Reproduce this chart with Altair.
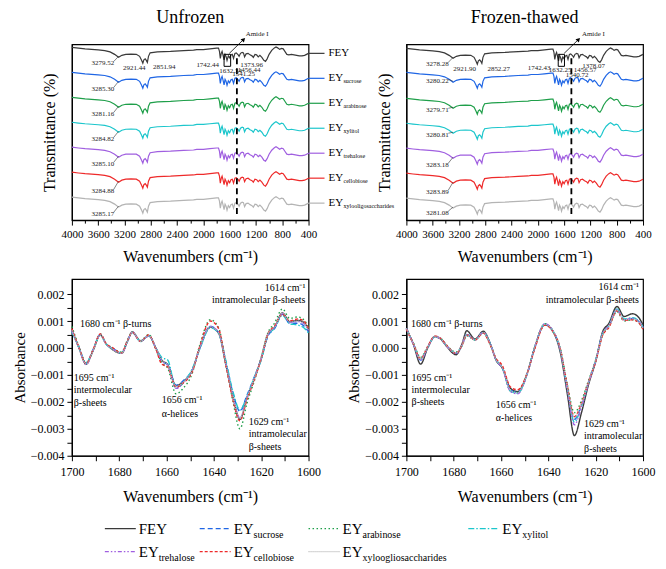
import altair as alt
import pandas as pd

FONT = "Liberation Serif"

# ---------------- series ----------------
SERIES = ["FEY", "EY_sucrose", "EY_arabinose", "EY_xylitol", "EY_trehalose", "EY_cellobiose", "EY_xylooligosaccharides"]
MAIN = ["FEY", "EY", "EY", "EY", "EY", "EY", "EY"]
SUBS = ["", "sucrose", "arabinose", "xylitol", "trehalose", "cellobiose", "xylooligosaccharides"]
LEGEND_SUBS = ["", "sucrose", "arabinose", "xylitol", "trehalose", "cellobiose", "xyloogliosaccharides"]
COLORS = ["#3a3a3a", "#1f66e5", "#1f9f4a", "#1cc6cc", "#a05fe0", "#ee2a2a", "#b4b4b4"]
DASHES = [[1, 0], [5, 3], [1.5, 2.5], [6, 2, 1.5, 2], [4, 2, 1.5, 2, 1.5, 2], [3, 2], [1, 1]]

# ---------------- FTIR spectra (top) ----------------
WN_TOP = [4000, 3900, 3800, 3700, 3600, 3500, 3420, 3350, 3290, 3240, 3180, 3100, 3020, 2970, 2940,
          2921, 2905, 2885, 2868, 2852, 2835, 2810, 2700, 2500, 2300, 2150, 2100, 2000, 1900, 1800,
          1770, 1755, 1742, 1728, 1715, 1700, 1685, 1670, 1655, 1640, 1620, 1600, 1580, 1560, 1541,
          1520, 1500, 1470, 1456, 1435, 1410, 1390, 1373, 1350, 1320, 1290, 1260, 1240, 1215, 1190,
          1165, 1140, 1110, 1080, 1055, 1030, 1000, 960, 920, 895, 870, 840, 810, 785, 760, 730, 700,
          660, 620, 580, 540, 500, 460, 430, 400]
# absorption depth below each trace's baseline (transmittance units)
DEPTH_TOP = [0.0, 0.8, 1.5, 2.0, 2.5, 3.2, 4.5, 7.0, 10.0, 8.0, 7.0, 6.8, 7.0, 9.0, 13.0,
             16.0, 12.5, 11.5, 13.0, 15.0, 9.0, 5.5, 4.5, 4.0, 3.2, 2.8, 2.2, 2.2, 1.5, 0.8,
             0.8, 4.0, 11.0, 6.0, 4.0, 8.0, 12.5, 7.0, 9.0, 13.0, 8.5, 10.5, 7.5, 7.0, 11.0,
             6.0, 5.5, 7.5, 9.0, 6.0, 5.0, 5.5, 9.5, 6.5, 6.0, 7.5, 8.5, 10.0, 7.0, 7.5,
             9.5, 8.0, 10.0, 13.0, 14.0, 11.5, 7.0, 3.0, 0.5, -0.5, 0.5, 2.0, 1.0, 1.5, 4.0, 7.0, 7.5,
             7.0, 7.5, 8.0, 8.5, 8.5, 8.0, 7.0, 6.0]
# vertical stacking level of each trace
LEVEL_U = [173, 148, 123, 98, 73, 48, 23]
LEVEL_F = [172, 148, 122, 97, 72, 47, 22]

# peak labels on the FEY trace: (text, wavenumber, y)
PEAKS_U = [("3279.52", 3529, 157), ("2921.44", 3051, 152), ("2851.94", 2595, 153), ("1742.44", 1934, 155),
           ("1632.34", 1585, 149), ("1541.25", 1387, 146), ("1456.44", 1304, 150), ("1373.96", 1266, 155)]
PEAKS_F = [("3278.28", 3529, 156), ("2921.90", 3114, 151), ("2852.27", 2595, 151), ("1742.43", 1980, 152),
           ("1632.25", 1661, 150), ("1540.72", 1402, 145), ("1456.57", 1281, 150), ("1378.07", 1152, 154)]
# O-H band labels on the other traces
OH_U = ["3285.30", "3281.16", "3284.82", "3285.10", "3284.88", "3285.17"]
OH_U_Y = [131, 106, 81, 56, 29, 6]
OH_F = ["3280.22", "3279.71", "3280.81", "3283.18", "3283.89", "3281.08"]
OH_F_Y = [139, 110, 85, 55, 28, 7]

# ---------------- second derivative (bottom) ----------------
G = [1700, 1697, 1694, 1691, 1688, 1685.5, 1683, 1679, 1676.5, 1674.5, 1671, 1667.5, 1664.5, 1662, 1659.5,
     1656, 1653, 1649, 1646, 1641.5, 1638, 1635, 1632, 1629, 1626, 1623, 1620, 1617, 1614.5, 1611, 1608,
     1604.5, 1602, 1600]
# values in units of 1e-3
SD_U = {
    "FEY":        [0.68, 0.00, -0.60, -0.08, 0.48, 0.15, -0.05, -0.20, 0.25, 0.60, 0.25, 0.45, 0.00, -0.45, -0.62, -1.40, -1.25, -0.80, 0.00, 0.77, 0.55, -0.60, -1.80, -2.65, -1.85, -1.15, -0.40, 0.55, 0.75, 1.30, 0.98, 1.02, 0.95, 0.68],
    "EY_sucrose": [0.62, 0.02, -0.58, -0.06, 0.50, 0.14, 0.00, -0.18, 0.25, 0.58, 0.25, 0.46, -0.02, -0.50, -0.62, -1.38, -1.22, -0.78, -0.02, 0.80, 0.58, -0.50, -1.65, -2.35, -1.75, -1.10, -0.40, 0.48, 0.70, 1.25, 0.92, 0.92, 0.82, 0.60],
    "EY_arabinose": [0.80, 0.05, -0.55, -0.10, 0.52, 0.15, 0.00, -0.15, 0.30, 0.58, 0.28, 0.50, -0.05, -0.55, -0.75, -1.70, -1.50, -0.90, 0.10, 1.05, 0.75, -0.55, -1.95, -3.00, -2.05, -1.25, -0.35, 0.60, 0.90, 1.45, 1.10, 1.15, 1.05, 0.75],
    "EY_xylitol": [0.60, 0.00, -0.55, -0.05, 0.48, 0.15, -0.02, -0.18, 0.25, 0.58, 0.24, 0.45, 0.00, -0.35, -0.45, -1.50, -1.30, -0.75, -0.05, 0.75, 0.55, -0.45, -1.60, -2.30, -1.80, -1.10, -0.45, 0.50, 0.72, 1.22, 0.90, 0.85, 0.75, 0.55],
    "EY_trehalose": [0.65, 0.00, -0.62, -0.08, 0.50, 0.14, -0.02, -0.20, 0.25, 0.60, 0.25, 0.45, 0.00, -0.48, -0.65, -1.50, -1.30, -0.82, 0.00, 0.80, 0.58, -0.55, -1.80, -2.60, -1.85, -1.15, -0.40, 0.52, 0.75, 1.28, 0.95, 0.98, 0.90, 0.65],
    "EY_cellobiose": [0.72, 0.02, -0.58, -0.05, 0.52, 0.16, 0.02, -0.18, 0.28, 0.58, 0.25, 0.48, -0.05, -0.60, -0.70, -1.45, -1.30, -0.85, 0.05, 1.00, 0.72, -0.60, -1.90, -2.70, -1.90, -1.20, -0.40, 0.55, 0.80, 1.25, 1.00, 1.08, 1.00, 0.72],
    "EY_xylooligosaccharides": [0.66, 0.00, -0.60, -0.08, 0.48, 0.14, -0.04, -0.20, 0.25, 0.60, 0.25, 0.45, 0.00, -0.46, -0.64, -1.42, -1.27, -0.80, 0.00, 0.78, 0.56, -0.58, -1.78, -2.62, -1.85, -1.15, -0.40, 0.55, 0.75, 1.30, 0.97, 1.00, 0.93, 0.67],
}
SD_F = {
    "FEY":        [0.74, 0.12, -0.60, 0.00, 0.43, 0.33, 0.06, -0.25, 0.15, 0.64, 0.33, 0.62, 0.15, -0.47, -0.74, -1.50, -1.62, -0.95, -0.05, 0.86, 0.60, -0.15, -1.70, -3.25, -2.40, -1.35, -0.50, 0.62, 0.90, 1.54, 1.17, 1.27, 1.15, 0.86],
    "EY_sucrose": [0.72, 0.15, -0.45, 0.02, 0.42, 0.35, 0.08, -0.20, 0.10, 0.50, 0.30, 0.58, 0.15, -0.45, -0.72, -1.55, -1.65, -0.98, -0.05, 0.88, 0.62, -0.05, -1.45, -2.65, -2.10, -1.25, -0.45, 0.55, 0.80, 1.40, 1.05, 1.10, 1.00, 0.75],
    "EY_arabinose": [0.70, 0.18, -0.35, 0.05, 0.40, 0.35, 0.10, -0.15, 0.08, 0.45, 0.30, 0.55, 0.12, -0.45, -0.72, -1.60, -1.65, -0.95, -0.02, 0.90, 0.62, 0.00, -1.35, -2.40, -1.95, -1.20, -0.45, 0.50, 0.78, 1.35, 1.00, 1.05, 0.95, 0.70],
    "EY_xylitol": [0.72, 0.15, -0.40, 0.02, 0.42, 0.35, 0.08, -0.18, 0.10, 0.50, 0.30, 0.58, 0.15, -0.45, -0.72, -1.60, -1.68, -0.98, -0.05, 0.88, 0.62, -0.05, -1.50, -2.75, -2.15, -1.28, -0.48, 0.55, 0.82, 1.45, 1.08, 1.12, 1.02, 0.78],
    "EY_trehalose": [0.72, 0.14, -0.45, 0.02, 0.42, 0.34, 0.07, -0.20, 0.10, 0.50, 0.30, 0.58, 0.14, -0.46, -0.74, -1.62, -1.70, -0.98, -0.05, 0.90, 0.64, -0.05, -1.55, -2.85, -2.20, -1.30, -0.48, 0.55, 0.82, 1.42, 1.05, 1.10, 1.00, 0.76],
    "EY_cellobiose": [0.70, 0.15, -0.40, 0.05, 0.44, 0.36, 0.10, -0.20, 0.10, 0.48, 0.30, 0.55, 0.10, -0.40, -0.65, -1.45, -1.55, -0.95, -0.10, 0.85, 0.60, -0.02, -1.40, -2.55, -2.05, -1.25, -0.50, 0.48, 0.75, 1.38, 1.02, 1.05, 0.95, 0.70],
    "EY_xylooligosaccharides": [0.72, 0.15, -0.42, 0.03, 0.42, 0.35, 0.08, -0.18, 0.10, 0.48, 0.30, 0.57, 0.13, -0.45, -0.72, -1.58, -1.66, -0.96, -0.04, 0.88, 0.62, -0.03, -1.45, -2.60, -2.08, -1.25, -0.46, 0.53, 0.80, 1.40, 1.04, 1.08, 0.98, 0.74],
}
# band annotations: (text, wavenumber, absorbance at top of text, align, line height)
BANDS_U = [("1614 cm⁻¹\nintramolecular β-sheets", 1601.3, 0.00241, "right", 11.5),
           ("1680 cm⁻¹ β-turns", 1696.6, 0.00108, "left", 12),
           ("1695 cm⁻¹\nintermolecular\nβ-sheets", 1699.2, -0.00092, "left", 12.5),
           ("1656 cm⁻¹\nα-helices", 1662.0, -0.00174, "left", 14),
           ("1629 cm⁻¹\nintramolecular\nβ-sheets", 1625.3, -0.00256, "left", 12.5)]
BANDS_F = [("1614 cm⁻¹\nintramolecular β-sheets", 1601.7, 0.00244, "right", 12.5),
           ("1680 cm⁻¹ β-turns", 1698.0, 0.00107, "left", 12),
           ("1695 cm⁻¹\nintermolecular\nβ-sheets", 1697.8, -0.00092, "left", 12),
           ("1656 cm⁻¹\nα-helices", 1662.2, -0.00193, "left", 13),
           ("1629 cm⁻¹\nintramolecular\nβ-sheets", 1624.9, -0.00262, "left", 12.5)]

# legend layout (pixels relative to the lower-left plot area)
LEG_COL = [33, 128, 237, 397]
LEG_ROW = [250, 273]

color_scale = alt.Scale(domain=SERIES, range=COLORS)
dash_scale = alt.Scale(domain=SERIES, range=DASHES)

TW, TH = 237, 176
BW, BH = 237, 177


def top_panel(level, peaks, oh, oh_y, title, side_labels, box, arrow, amide_x):
    rows = []
    for s, lv in zip(SERIES, level):
        for w, d in zip(WN_TOP, DEPTH_TOP):
            rows.append({"series": s, "wn": w, "val": lv - d})
    df = pd.DataFrame(rows)
    xs = alt.Scale(domain=[400, 4000], reverse=True, nice=False, zero=False)
    ys = alt.Scale(domain=[0, 176], nice=False, zero=False)
    xa = alt.Axis(values=list(range(400, 4001, 200)),
                  labelExpr="datum.value % 400 === 0 ? datum.label : ''",
                  format="d", title="Wavenumbers (cm⁻¹)", labelFontSize=11, titleFontSize=16,
                  labelOverlap=False, labelFlush=False, grid=False, labelPadding=3, titlePadding=9,
                  tickSize={"condition": {"test": "datum.value % 400 === 0", "value": 5}, "value": 3})
    ya = alt.Axis(title="Transmittance (%)", ticks=False, labels=False, grid=False,
                  titleFontSize=16, titlePadding=14)

    def X(f):
        return alt.X(f, scale=xs, axis=xa)

    def Y(f):
        return alt.Y(f, scale=ys, axis=ya)

    lines = alt.Chart(df).mark_line(strokeWidth=1.2).encode(
        x=X("wn:Q"), y=Y("val:Q"),
        color=alt.Color("series:N", scale=color_scale, legend=None))

    pk = pd.DataFrame([{"t": t, "wn": w, "val": v} for t, w, v in peaks] +
                      [{"t": t, "wn": peaks[0][1], "val": v} for t, v in zip(oh, oh_y)])
    pk_text = alt.Chart(pk).mark_text(fontSize=7, font=FONT, color="#222").encode(
        x=X("wn:Q"), y=Y("val:Q"), text="t:N")

    ld = pd.DataFrame([{"x1": 3362, "y1": v + 2, "x2": 3290, "y2": lv - 9}
                       for v, lv in zip([peaks[0][2]] + oh_y, level)])
    leaders = alt.Chart(ld).mark_rule(strokeWidth=0.6, color="#333").encode(
        x=X("x1:Q"), x2="x2:Q", y=Y("y1:Q"), y2="y2:Q")

    bx = pd.DataFrame([{"x1": box[0], "x2": box[1], "y1": box[2], "y2": box[3]}])
    box_l = alt.Chart(bx).mark_rect(fillOpacity=0, stroke="black", strokeWidth=1).encode(
        x=X("x1:Q"), x2="x2:Q", y=Y("y1:Q"), y2="y2:Q")

    ar = pd.DataFrame([{"x1": arrow[0], "y1": arrow[1], "x2": arrow[2], "y2": arrow[3]}])
    arrow_l = alt.Chart(ar).mark_rule(strokeWidth=0.8, color="black").encode(
        x=X("x1:Q"), x2="x2:Q", y=Y("y1:Q"), y2="y2:Q")
    head = alt.Chart(ar).mark_point(shape="triangle-up", filled=True, size=22, angle=45,
                                    color="black", opacity=1).encode(x=X("x2:Q"), y=Y("y2:Q"))
    amide = alt.Chart(pd.DataFrame([{"t": "Amide I", "wn": amide_x, "val": 186}])).mark_text(
        fontSize=7, font=FONT, align="left", color="#222").encode(x=X("wn:Q"), y=Y("val:Q"), text="t:N")

    dash = alt.Chart(pd.DataFrame([{"wn": 1490, "y1": 162, "y2": 6}])).mark_rule(
        strokeDash=[6, 4], strokeWidth=1.8, color="black").encode(x=X("wn:Q"), y=Y("y1:Q"), y2="y2:Q")

    layers = [lines, dash, box_l, leaders, pk_text, arrow_l, head, amide]

    if side_labels:
        sl = pd.DataFrame([{"series": s, "main": m, "sub": sb, "x1": 400, "x2": 157, "xt": 96,
                            "val": lv - DEPTH_TOP[-1]} for s, m, sb, lv in zip(SERIES, MAIN, SUBS, level)])
        rules = alt.Chart(sl).mark_rule(strokeWidth=1.2).encode(
            x=X("x1:Q"), x2="x2:Q", y=Y("val:Q"),
            color=alt.Color("series:N", scale=color_scale, legend=None))
        mt = alt.Chart(sl).mark_text(fontSize=11, font=FONT, align="left", baseline="middle",
                                     color="black").encode(x=X("xt:Q"), y=Y("val:Q"), text="main:N")
        st = alt.Chart(sl).mark_text(fontSize=6, font=FONT, align="left", baseline="middle",
                                     dx=15, dy=3, color="black").encode(x=X("xt:Q"), y=Y("val:Q"), text="sub:N")
        layers += [rules, mt, st]

    return alt.layer(*layers).properties(
        width=TW, height=TH,
        title=alt.TitleParams(title, fontSize=18, font=FONT, fontWeight="normal", color="black", offset=3))


def bottom_panel(sd, bands, with_legend):
    rows = []
    for s in SERIES:
        for w, v in zip(G, sd[s]):
            rows.append({"series": s, "wn": w, "val": v / 1000.0})
    df = pd.DataFrame(rows)
    xs = alt.Scale(domain=[1600, 1700], reverse=True, nice=False, zero=False)
    ys = alt.Scale(domain=[-0.004, 0.00256], nice=False, zero=False)
    yvals = [round(-0.004 + 0.0005 * i, 4) for i in range(13)]
    xa = alt.Axis(values=list(range(1600, 1701, 10)),
                  labelExpr="datum.value % 20 === 0 ? datum.label : ''",
                  format="d", title="Wavenumbers (cm⁻¹)", labelFontSize=12, titleFontSize=16,
                  labelOverlap=False, labelFlush=False, grid=False, tickSize=5, labelPadding=6,
                  titlePadding=11)
    ya = alt.Axis(values=yvals, format=".3f",
                  labelExpr="abs(datum.value * 1000 - round(datum.value * 1000)) < 0.01 ? datum.label : ''",
                  title="Absorbance", labelFontSize=12, titleFontSize=15, labelOverlap=False,
                  labelFlush=False, grid=False, tickSize=5, labelPadding=3, titlePadding=3)

    lines = alt.Chart(df).mark_line(strokeWidth=1.4, interpolate="monotone").encode(
        x=alt.X("wn:Q", scale=xs, axis=xa), y=alt.Y("val:Q", scale=ys, axis=ya),
        color=alt.Color("series:N", scale=color_scale, legend=None),
        strokeDash=alt.StrokeDash("series:N", scale=dash_scale, legend=None))

    layers = [lines]
    for t, w, v, al, lh in bands:
        d = pd.DataFrame([{"t": t, "wn": w, "val": v}])
        layers.append(alt.Chart(d).mark_text(fontSize=10, font=FONT, align=al, baseline="top",
                                             lineBreak="\n", lineHeight=lh, color="black").encode(
            x=alt.X("wn:Q", scale=xs, axis=xa), y=alt.Y("val:Q", scale=ys, axis=ya), text="t:N"))
    panel = alt.layer(*layers)

    if not with_legend:
        return panel.properties(width=BW, height=BH)

    leg_rows = []
    for i, (s, m, sb) in enumerate(zip(SERIES, MAIN, LEGEND_SUBS)):
        c, r = i % 4, i // 4
        leg_rows.append({"series": s, "main": m, "sub": sb, "x1": LEG_COL[c], "x2": LEG_COL[c] + 31,
                         "xt": LEG_COL[c] + 34, "y": LEG_ROW[r]})
    leg_df = pd.DataFrame(leg_rows)
    lxs = alt.Scale(domain=[0, BW], nice=False, zero=False)
    lys = alt.Scale(domain=[0, BH], reverse=True, nice=False, zero=False)
    leg_rule = alt.Chart(leg_df).mark_rule(strokeWidth=1.4).encode(
        x=alt.X("x1:Q", scale=lxs, axis=None), x2="x2:Q", y=alt.Y("y:Q", scale=lys, axis=None),
        color=alt.Color("series:N", scale=color_scale, legend=None),
        strokeDash=alt.StrokeDash("series:N", scale=dash_scale, legend=None))
    leg_main = alt.Chart(leg_df).mark_text(fontSize=15, font=FONT, align="left", baseline="middle",
                                           color="black").encode(
        x=alt.X("xt:Q", scale=lxs, axis=None), y=alt.Y("y:Q", scale=lys, axis=None), text="main:N")
    leg_sub = alt.Chart(leg_df).mark_text(fontSize=10, font=FONT, align="left", baseline="middle",
                                          dx=20, dy=6, color="black").encode(
        x=alt.X("xt:Q", scale=lxs, axis=None), y=alt.Y("y:Q", scale=lys, axis=None), text="sub:N")
    legend = alt.layer(leg_rule, leg_main, leg_sub)
    return alt.layer(panel, legend).resolve_scale(x="independent", y="independent").properties(
        width=BW, height=BH)


tl = top_panel(LEVEL_U, PEAKS_U, OH_U, OH_U_Y, "Unfrozen", True,
               (1685, 1585, 166, 154), (1605, 167, 1387, 181), 1357)
tr = top_panel(LEVEL_F, PEAKS_F, OH_F, OH_F_Y, "Frozen-thawed", False,
               (1690, 1595, 166, 154), (1600, 167, 1380, 181), 1330)
bl = bottom_panel(SD_U, BANDS_U, True)
br = bottom_panel(SD_F, BANDS_F, False)

chart = alt.concat(tl, tr, bl, br, columns=2, spacing={"row": 59, "column": 98}, bounds="flush").properties(
    padding={"left": 3, "top": 0, "right": 2, "bottom": 0}
).configure(font=FONT).configure_view(stroke="black", strokeWidth=1.2).configure_axis(
    labelFont=FONT, titleFont=FONT, labelColor="black", titleColor="black", tickColor="black",
    domainColor="black", titleFontWeight="normal", domainWidth=1.2, tickWidth=1
)

chart.save("out.html", embed_options={"renderer": "svg", "actions": False})
